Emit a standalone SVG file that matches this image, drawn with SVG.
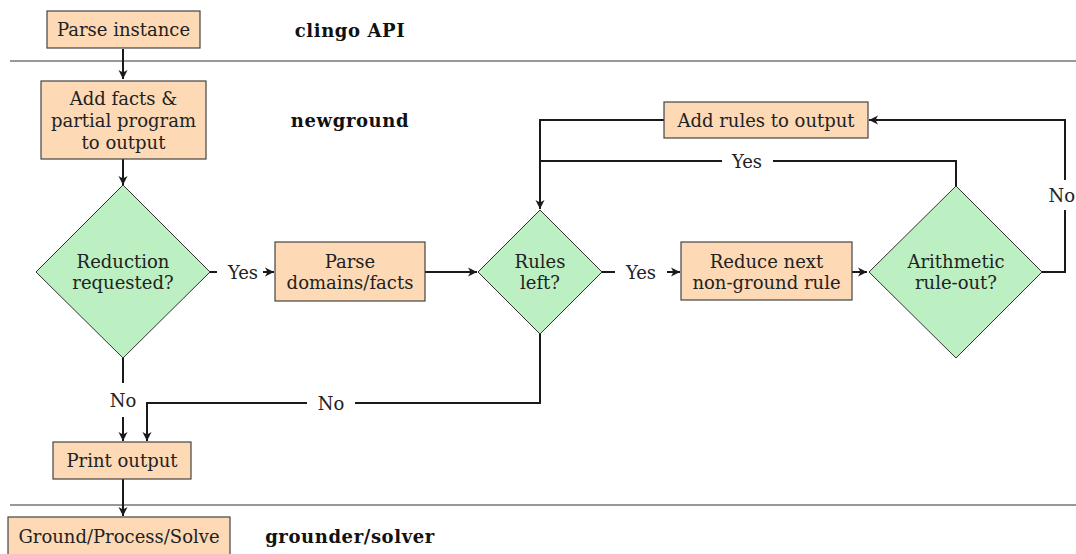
<svg xmlns="http://www.w3.org/2000/svg" width="1076" height="554" viewBox="0 0 1076 554">
<defs>
<style>
.box{fill:#FDD9B5;stroke:#444;stroke-width:1.2}
.dia{fill:#BCEFC1;stroke:#333;stroke-width:1}
.t{font-family:"DejaVu Serif","Liberation Serif",serif;font-size:18px;fill:#222;text-anchor:middle;dominant-baseline:central}
.lbl{font-family:"DejaVu Serif","Liberation Serif",serif;font-size:18px;font-weight:bold;fill:#111;text-anchor:middle;dominant-baseline:central;letter-spacing:0.6px}
.c{fill:none;stroke:#1a1a1a;stroke-width:2}
.sep{stroke:#333;stroke-width:1}
</style>
<marker id="ar" markerUnits="userSpaceOnUse" markerWidth="12" markerHeight="12" viewBox="0 0 12 12" refX="10" refY="6" orient="auto">
<path d="M1,1.5 L10,6 L1,10.5 L3.5,6 z" fill="#1a1a1a"/>
</marker>
</defs>
<rect width="1076" height="554" fill="#fff"/>
<g id="separators">
<line class="sep" x1="10" y1="61" x2="1076" y2="61"/>
<line class="sep" x1="10" y1="505" x2="1076" y2="505"/>
</g>
<g id="layer-labels">
<text class="lbl" x="350" y="30">clingo API</text>
<text class="lbl" x="350" y="120">newground</text>
<text class="lbl" x="350" y="536">grounder/solver</text>
</g>
<g id="connectors">
<path class="c" d="M123,49 V79" marker-end="url(#ar)"/>
<path class="c" d="M123,159 V185" marker-end="url(#ar)"/>
<path class="c" d="M210,272 H217"/>
<path class="c" d="M263,272 H274" marker-end="url(#ar)"/>
<path class="c" d="M425,272 H477" marker-end="url(#ar)"/>
<path class="c" d="M601,272 H615"/>
<path class="c" d="M667,272 H680" marker-end="url(#ar)"/>
<path class="c" d="M852,272 H867" marker-end="url(#ar)"/>
<path class="c" d="M1042,272 H1065 V210"/>
<path class="c" d="M1065,180 V120 H869" marker-end="url(#ar)"/>
<path class="c" d="M664,120 H540 V209" marker-end="url(#ar)"/>
<path class="c" d="M956,186 V161 H773"/>
<path class="c" d="M722,161 H540"/>
<path class="c" d="M540,334 V403 H355"/>
<path class="c" d="M307,403 H147 V441" marker-end="url(#ar)"/>
<path class="c" d="M123,358 V383"/>
<path class="c" d="M123,417 V441" marker-end="url(#ar)"/>
<path class="c" d="M123,479 V516" marker-end="url(#ar)"/>
<text class="t" x="243" y="272">Yes</text>
<text class="t" x="641" y="272">Yes</text>
<text class="t" x="747" y="161">Yes</text>
<text class="t" x="1075" y="195" style="text-anchor:end">No</text>
<text class="t" x="331" y="403">No</text>
<text class="t" x="123" y="400">No</text>
</g>
<g id="parse-instance">
<rect class="box" x="47" y="11" width="153" height="37"/>
<text class="t" x="123.5" y="29.5">Parse instance</text>
</g>
<g id="add-facts">
<rect class="box" x="41" y="81" width="165" height="78"/>
<text class="t" x="123.5" y="98">Add facts &amp;</text>
<text class="t" x="123.5" y="120">partial program</text>
<text class="t" x="123.5" y="142">to output</text>
</g>
<g id="reduction-requested">
<polygon class="dia" points="123,185 210,272 123,358 36,272"/>
<text class="t" x="123" y="261">Reduction</text>
<text class="t" x="123" y="282">requested?</text>
</g>
<g id="parse-domains">
<rect class="box" x="275" y="242" width="150" height="59"/>
<text class="t" x="350" y="261">Parse</text>
<text class="t" x="350" y="282">domains/facts</text>
</g>
<g id="rules-left">
<polygon class="dia" points="540,210 602,272 540,334 478,272"/>
<text class="t" x="540" y="261">Rules</text>
<text class="t" x="540" y="282">left?</text>
</g>
<g id="reduce-next">
<rect class="box" x="681" y="242" width="171" height="58"/>
<text class="t" x="766.5" y="261">Reduce next</text>
<text class="t" x="766.5" y="282">non-ground rule</text>
</g>
<g id="arithmetic">
<polygon class="dia" points="956,186 1042,272 956,358 869,272"/>
<text class="t" x="956" y="261">Arithmetic</text>
<text class="t" x="956" y="282">rule-out?</text>
</g>
<g id="add-rules">
<rect class="box" x="664" y="102" width="204" height="36"/>
<text class="t" x="766" y="120">Add rules to output</text>
</g>
<g id="print-output">
<rect class="box" x="53" y="442" width="138" height="37"/>
<text class="t" x="122" y="460.5">Print output</text>
</g>
<g id="ground-process-solve">
<rect class="box" x="8" y="517" width="222" height="40"/>
<text class="t" x="119" y="536">Ground/Process/Solve</text>
</g>
</svg>
